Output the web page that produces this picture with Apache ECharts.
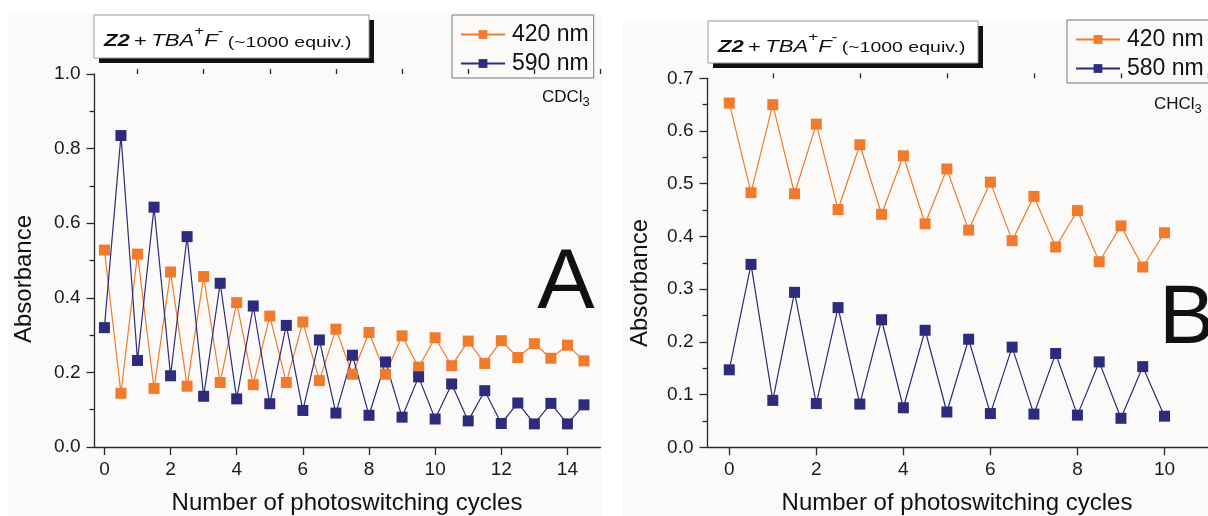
<!DOCTYPE html>
<html>
<head>
<meta charset="utf-8">
<title>Photoswitching cycles</title>
<script src="https://cdn.jsdelivr.net/npm/echarts@6/dist/echarts.min.js"></script>
<style>
  html, body { margin: 0; padding: 0; background: #ffffff; }
  #chart { width: 1208px; height: 516px; }
</style>
</head>
<body>
<div id="chart"></div>
<script>
// Panel A (CDCl3): absorbance after each half cycle of irradiation
const cyclesA = [0, 0.5, 1, 1.5, 2, 2.5, 3, 3.5, 4, 4.5, 5, 5.5, 6, 6.5, 7, 7.5,
                 8, 8.5, 9, 9.5, 10, 10.5, 11, 11.5, 12, 12.5, 13, 13.5, 14, 14.5];
const absA420 = [0.528, 0.144, 0.517, 0.157, 0.469, 0.163, 0.457, 0.173, 0.387, 0.167,
                 0.351, 0.173, 0.335, 0.178, 0.316, 0.195, 0.307, 0.195, 0.298, 0.214,
                 0.293, 0.218, 0.284, 0.224, 0.285, 0.240, 0.277, 0.238, 0.273, 0.231];
const absA590 = [0.320, 0.835, 0.232, 0.643, 0.191, 0.564, 0.136, 0.439, 0.129, 0.378,
                 0.116, 0.326, 0.098, 0.287, 0.091, 0.246, 0.085, 0.228, 0.080, 0.188,
                 0.075, 0.169, 0.070, 0.151, 0.063, 0.118, 0.062, 0.117, 0.062, 0.113];

// Panel B (CHCl3)
const cyclesB = [0, 0.5, 1, 1.5, 2, 2.5, 3, 3.5, 4, 4.5, 5, 5.5, 6, 6.5, 7, 7.5,
                 8, 8.5, 9, 9.5, 10];
const absB420 = [0.653, 0.483, 0.650, 0.481, 0.613, 0.451, 0.574, 0.442, 0.553, 0.424,
                 0.528, 0.412, 0.503, 0.392, 0.476, 0.380, 0.449, 0.352, 0.420, 0.342, 0.407];
const absB580 = [0.147, 0.347, 0.089, 0.294, 0.083, 0.265, 0.082, 0.242, 0.075, 0.222,
                 0.067, 0.205, 0.064, 0.190, 0.063, 0.178, 0.061, 0.162, 0.055, 0.153, 0.059];

// Tick positions
const majorTicksA = [0, 2, 4, 6, 8, 10, 12, 14];
const minorTicksA = [1, 3, 5, 7, 9, 11, 13, 15];
const majorTicksB = [0, 2, 4, 6, 8, 10];
const minorTicksB = [1, 3, 5, 7, 9, 11];

const ORANGE = '#f07b2c';
const NAVY = '#2c2b7c';
const AXIS = '#2a2a2a';
const FONT = '"Liberation Sans", Arial, Helvetica, sans-serif';

const zip = (xs, ys) => xs.map((x, i) => [x, ys[i]]);

function majorX(grid, min, max, ticks) {
  return {
    type: 'value', gridIndex: grid, min: min, max: max,
    axisLine: { show: true, onZero: false, lineStyle: { color: AXIS, width: 1.3 } },
    axisTick: { show: true, customValues: ticks, length: 8, lineStyle: { color: AXIS, width: 1.3 } },
    axisLabel: { show: true, customValues: ticks, margin: 13, fontSize: 19, color: '#1a1a1a', fontFamily: FONT },
    splitLine: { show: false }
  };
}
function minorX(grid, min, max, ticks) {
  return {
    type: 'value', gridIndex: grid, min: min, max: max,
    axisLine: { show: false, onZero: false },
    axisTick: { show: true, customValues: ticks, length: 5, lineStyle: { color: AXIS, width: 1.3 } },
    axisLabel: { show: false },
    splitLine: { show: false }
  };
}
function yAx(grid, max, interval) {
  return {
    type: 'value', gridIndex: grid, min: 0, max: max, interval: interval,
    axisLine: { show: true, onZero: false, lineStyle: { color: AXIS, width: 1.3 } },
    axisTick: { show: true, length: 8, lineStyle: { color: AXIS, width: 1.3 } },
    minorTick: { show: true, splitNumber: 2, length: 5, lineStyle: { color: AXIS, width: 1.3 } },
    axisLabel: { margin: 14, fontSize: 19, color: '#1a1a1a', fontFamily: FONT,
                 formatter: v => v.toFixed(1) },
    splitLine: { show: false }
  };
}
function lineSeries(name, xi, yi, data, color) {
  return {
    type: 'line', name: name, xAxisIndex: xi, yAxisIndex: yi,
    data: data, color: color, symbol: 'rect', symbolSize: 11, showSymbol: true,
    lineStyle: { color: color, width: 1.2 },
    itemStyle: { color: color },
    emphasis: { disabled: true }
  };
}
function legendBox(left, top, names) {
  return {
    orient: 'vertical', left: left, top: top, data: names,
    borderColor: '#777', borderWidth: 1, padding: [8, 5, 3, 8],
    itemGap: 6, itemWidth: 44, itemHeight: 11,
    textStyle: { fontSize: 23, color: '#111', fontFamily: FONT, padding: [0, 0, 0, 2] },
    selectedMode: false
  };
}
function titleBox(x, y, w, h) {
  return [
    { type: 'rect', z: 20, shape: { x: x + 5, y: y + 5, width: w, height: h }, style: { fill: '#111' } },
    { type: 'rect', z: 21, shape: { x: x, y: y, width: w, height: h }, style: { fill: '#ffffff', stroke: '#9a9a9a', lineWidth: 1 } },
    { type: 'text', z: 22, x: x + 10, y: y + h / 2 + 1, scaleX: 1.3,
      style: {
        text: '{b|Z2} {n|+} {i|TBA}{sup|+}{i|F}{sup|-} {p|(~1000 equiv.)}',
        verticalAlign: 'middle', fill: '#111',
        rich: {
          b: { fontSize: 17, fontWeight: 'bold', fontStyle: 'italic', fontFamily: FONT, lineHeight: 25, verticalAlign: 'bottom' },
          n: { fontSize: 17, fontFamily: FONT, lineHeight: 25, verticalAlign: 'bottom' },
          i: { fontSize: 17, fontStyle: 'italic', fontFamily: FONT, lineHeight: 25, verticalAlign: 'bottom' },
          sup: { fontSize: 13, fontFamily: FONT, lineHeight: 25, verticalAlign: 'top' },
          p: { fontSize: 15, fontFamily: FONT, lineHeight: 25, verticalAlign: 'bottom' }
        }
      } }
  ];
}
function solventLabel(x, y, base) {
  return { type: 'text', z: 22, x: x, y: y,
    style: { text: base + '{s|3}', fill: '#111', fontSize: 17, fontFamily: FONT, verticalAlign: 'middle',
             rich: { s: { fontSize: 13, fontFamily: FONT, padding: [10, 0, 0, 0] } } } };
}
function plainText(x, y, txt, size, rotation) {
  return { type: 'text', z: 22, x: x, y: y, rotation: rotation || 0,
    style: { text: txt, fill: '#111', fontSize: size, fontFamily: FONT, align: 'center', verticalAlign: 'middle' } };
}

const chart = echarts.init(document.getElementById('chart'), null, { renderer: 'canvas' });

chart.setOption({
  animation: false,
  backgroundColor: '#ffffff',
  grid: [
    { left: 94.5, top: 74, width: 506, height: 373 },
    { left: 707.5, top: 78.3, width: 540, height: 369 }
  ],
  xAxis: [
    majorX(0, -0.3, 15, majorTicksA),
    minorX(0, -0.3, 15, minorTicksA),
    majorX(1, -0.5, 11, majorTicksB),
    minorX(1, -0.5, 11, minorTicksB)
  ],
  yAxis: [
    yAx(0, 1.0, 0.2),
    yAx(1, 0.7, 0.1)
  ],
  legend: [
    legendBox(452, 15, ['420 nm', '590 nm']),
    legendBox(1067, 20, ['420 nm', '580 nm'])
  ],
  series: [
    lineSeries('420 nm', 0, 0, zip(cyclesA, absA420), ORANGE),
    lineSeries('590 nm', 0, 0, zip(cyclesA, absA590), NAVY),
    lineSeries('420 nm', 2, 1, zip(cyclesB, absB420), ORANGE),
    lineSeries('580 nm', 2, 1, zip(cyclesB, absB580), NAVY)
  ],
  graphic: [
    // panel backgrounds
    { type: 'rect', z: -10, silent: true, shape: { x: 8, y: 12, width: 594, height: 504 }, style: { fill: '#fbfaf8' } },
    { type: 'rect', z: -10, silent: true, shape: { x: 623, y: 19, width: 585, height: 497 }, style: { fill: '#fbfaf8' } },
    ...titleBox(94, 15, 275, 43),
    ...titleBox(708, 21, 270, 42),
    solventLabel(542, 97, 'CDCl'),
    solventLabel(1154, 104, 'CHCl'),
    plainText(566, 284, 'A', 86),
    plainText(1187, 320, 'B', 84),
    plainText(24, 279, 'Absorbance', 24, Math.PI / 2),
    plainText(347, 503, 'Number of photoswitching cycles', 24),
    plainText(640, 283, 'Absorbance', 24, Math.PI / 2),
    plainText(957, 503, 'Number of photoswitching cycles', 24)
  ]
});
</script>
</body>
</html>
